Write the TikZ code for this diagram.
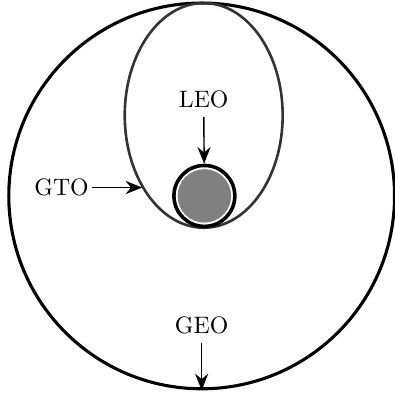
\documentclass[tikz,border=0pt]{standalone}
\usepackage{amsmath}
\usetikzlibrary{arrows.meta,positioning,shapes.geometric}
\begin{document}
\begin{tikzpicture}[
  orbit/.style={draw,inner sep=0pt},
  pointer/.style={-{Stealth[length=7pt,width=5.5pt]},semithick}
]
  \def\R{2.85}
  \def\re{0.45}
  \useasboundingbox (-2.98,-3.06) rectangle (2.85,2.895);

    % orbits
    \node[orbit,circle,line width=1.3pt,minimum size=2*\R cm] (geo) at (0,0) {};
    \node[orbit,ellipse,draw=black!80,line width=1.1pt,
      minimum width=2.334cm,minimum height=3.32cm] (gto) at (0.03,1.19) {};

    % earth
    \node[orbit,circle,line width=1.5pt,minimum size=2*\re cm] (earth) at (0.04,0) {};
    \fill[gray] (earth.center) circle (0.395);

    % labels
    \node (leo) at (0.03,1.42) {LEO};
    \draw[pointer] (leo) -- (earth);

    \node (gtolbl) at (-2.07,0.124) {GTO};
    \coordinate (gtotip) at (gto.230);
    \draw[pointer] (gtolbl.east) ++(-0.07,0) -- (gtolbl.east -| gtotip);

    \node (geolbl) at (0,-1.92) {GEO};
    \draw[pointer] (geolbl) -- (geo.south);
\end{tikzpicture}
\end{document}
